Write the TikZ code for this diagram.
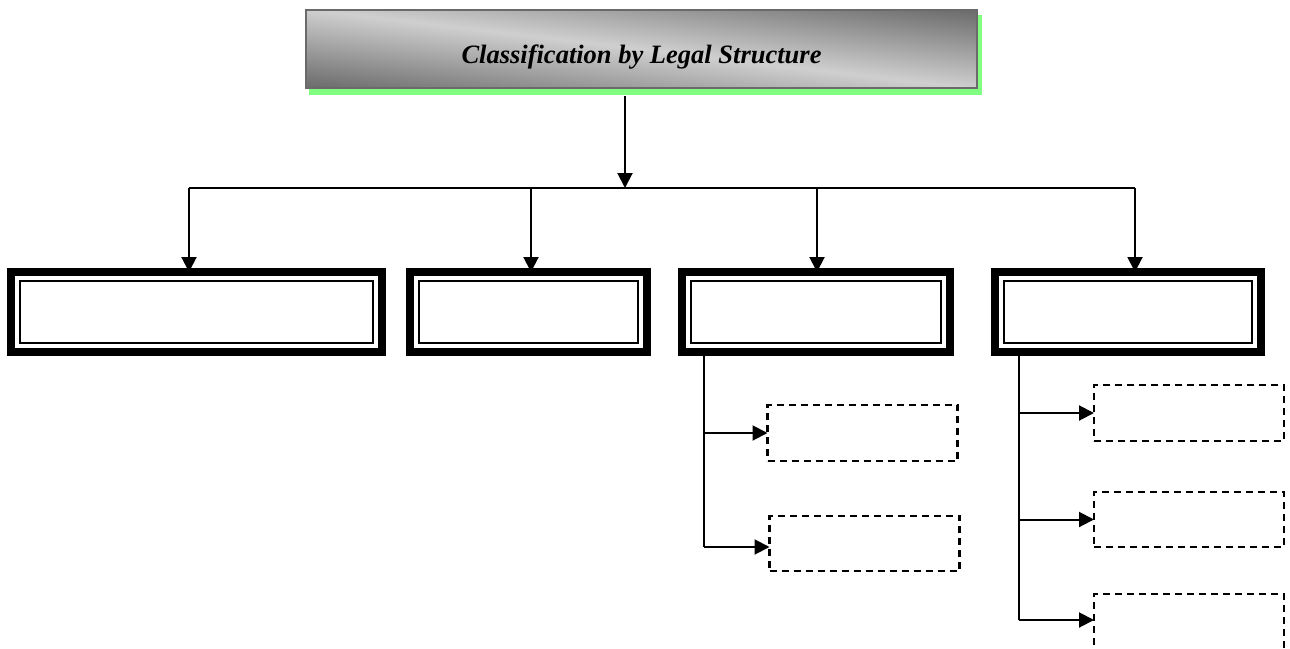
\documentclass[tikz,border=0pt]{standalone}
\usepackage{fontspec}
\setmainfont{Liberation Serif}
\usetikzlibrary{arrows.meta,positioning}
\definecolor{tdark}{HTML}{6C6C6C}
\definecolor{tlight}{HTML}{CFCFCF}
\definecolor{tedge}{HTML}{6A6A6A}
\definecolor{tgreen}{HTML}{80FF80}
\pgfdeclarelayer{background}
\pgfsetlayers{background,main}
\pgfdeclareverticalshading{tband}{100bp}{color(0bp)=(tdark); color(15bp)=(tdark); color(50bp)=(tlight); color(85bp)=(tdark); color(100bp)=(tdark)}

\begin{document}
\begin{tikzpicture}[x=1pt,y=-1pt,every node/.style={inner sep=0pt,outer sep=0pt},title/.style={draw=tedge,line width=2pt,minimum width=671pt,minimum height=78pt,text height=28pt,text depth=0pt,font=\bfseries\itshape\fontsize{26.5}{30}\selectfont},frame/.style={draw,line width=8pt,minimum height=80pt,path picture={\draw[line width=2pt] ([shift={(8.7pt,-8.7pt)}]path picture bounding box.north west) rectangle ([shift={(-8.7pt,8.7pt)}]path picture bounding box.south east);}},sub/.style={draw,line width=2.5pt,dash pattern=on 7pt off 5pt,minimum width=190pt,minimum height=56pt},arr/.style={-{Triangle[length=15pt,width=15pt]},line width=2pt},ln/.style={line width=2pt}]
\useasboundingbox (0,0) rectangle (1290,648);
\node[title] (top) at (641.5,49) {Classification by Legal Structure};
\node[frame,minimum width=370.5pt] (b1) at (196.5,312) {};
\node[frame,minimum width=237pt] (b2) at (528.5,312) {};
\node[frame,minimum width=268pt] (b3) at (816,312) {};
\node[frame,minimum width=266pt] (b4) at (1128,312) {};
\node[sub] (s1) at (862.5,433) {};
\node[sub,minimum height=55pt] (s2) at (864.5,543.5) {};
\node[sub] (t1) at (1189,413) {};
\node[sub,minimum height=55pt] (t2) at (1189,519.5) {};
\node[sub] (t3) at (1189,622) {};
% shadow and shading of the title
\begin{pgfonlayer}{background}
\fill[tgreen] ([shift={(3pt,-7pt)}]top.south west) rectangle ([shift={(5pt,-5pt)}]top.north east);
\begin{scope}[transform canvas={shift={(top.center)},xscale=8.39}]
\shade[shading=tband,shading angle=-45] (-40pt,-39pt) rectangle (40pt,39pt);
\end{scope}
\end{pgfonlayer}
% bus under the title
\coordinate (bus) at (625,188);
\coordinate (j1) at (189,188); \coordinate (j2) at (531,188);
\coordinate (j3) at (817,188); \coordinate (j4) at (1135,188);
\draw[arr] ([yshift=-8pt]top.south -| bus) -- (bus);
\draw[line width=1.7pt] (j1) -- (j4);
\draw[arr] (j1) -- (j1 |- b1.north); \draw[arr] (j2) -- (j2 |- b2.north);
\draw[arr] (j3) -- (j3 |- b3.north); \draw[arr] (j4) -- (j4 |- b4.north);
% branches
\coordinate (c3) at (704,547); \coordinate (c4) at (1019,620);
\draw[ln] (b3.south -| c3) -- (c3);
\draw[arr] (c3 |- s1.west) -- (s1.west); \draw[arr] (c3) -- (c3 -| s2.west);
\draw[ln] (b4.south -| c4) -- (c4);
\draw[arr] (c4 |- t1.west) -- (t1.west); \draw[arr] (c4 |- t2.west) -- (t2.west);
\draw[arr] (c4) -- (c4 -| t3.west);
\end{tikzpicture}
\end{document}
